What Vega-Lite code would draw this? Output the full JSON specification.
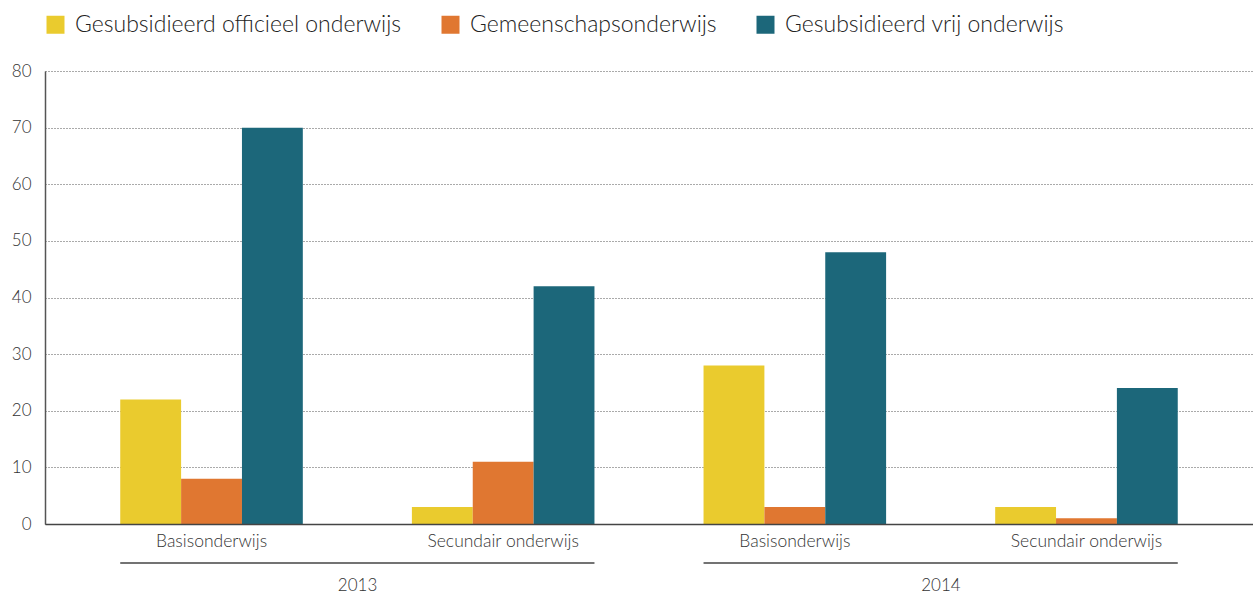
{
  "$schema": "https://vega.github.io/schema/vega-lite/v6.json",
  "width": 1208,
  "height": 453,
  "autosize": {"type": "none"},
  "padding": {"left": 45, "top": 71, "right": 0, "bottom": 71},
  "background": "white",
  "config": {"font": "Lato", "view": {"stroke": null}},
  "layer": [
    {
      "data": {
        "values": [
          {"group": "2013|Basisonderwijs", "type": "Gesubsidieerd officieel onderwijs", "value": 22},
          {"group": "2013|Basisonderwijs", "type": "Gemeenschapsonderwijs", "value": 8},
          {"group": "2013|Basisonderwijs", "type": "Gesubsidieerd vrij onderwijs", "value": 70},
          {"group": "2013|Secundair onderwijs", "type": "Gesubsidieerd officieel onderwijs", "value": 3},
          {"group": "2013|Secundair onderwijs", "type": "Gemeenschapsonderwijs", "value": 11},
          {"group": "2013|Secundair onderwijs", "type": "Gesubsidieerd vrij onderwijs", "value": 42},
          {"group": "2014|Basisonderwijs", "type": "Gesubsidieerd officieel onderwijs", "value": 28},
          {"group": "2014|Basisonderwijs", "type": "Gemeenschapsonderwijs", "value": 3},
          {"group": "2014|Basisonderwijs", "type": "Gesubsidieerd vrij onderwijs", "value": 48},
          {"group": "2014|Secundair onderwijs", "type": "Gesubsidieerd officieel onderwijs", "value": 3},
          {"group": "2014|Secundair onderwijs", "type": "Gemeenschapsonderwijs", "value": 1},
          {"group": "2014|Secundair onderwijs", "type": "Gesubsidieerd vrij onderwijs", "value": 24}
        ]
      },
      "mark": {"type": "bar"},
      "encoding": {
        "x": {
          "field": "group",
          "type": "nominal",
          "scale": {"paddingInner": 0.374, "paddingOuter": 0.258},
          "axis": {
            "title": null,
            "labelExpr": "split(datum.label,'|')[1]",
            "labelAngle": 0,
            "labelFontSize": 17.5,
            "labelFontWeight": 300,
            "labelColor": "#333",
            "labelPadding": 8,
            "ticks": false,
            "domainColor": "#444",
            "domainWidth": 1.5,
            "zindex": 1
          }
        },
        "xOffset": {
          "field": "type",
          "type": "nominal",
          "sort": ["Gesubsidieerd officieel onderwijs", "Gemeenschapsonderwijs", "Gesubsidieerd vrij onderwijs"],
          "scale": {"paddingInner": 0, "paddingOuter": 0}
        },
        "y": {
          "field": "value",
          "type": "quantitative",
          "scale": {"domain": [0, 80], "nice": false},
          "axis": {
            "title": null,
            "values": [0, 10, 20, 30, 40, 50, 60, 70, 80],
            "ticks": false,
            "domainColor": "#555",
            "domainWidth": 1.5,
            "gridDash": [1, 2],
            "gridColor": "#555",
            "gridWidth": 1,
            "labelFontSize": 17,
            "labelFontWeight": 300,
            "labelColor": "#333",
            "labelPadding": 14
          }
        },
        "color": {
          "field": "type",
          "type": "nominal",
          "sort": ["Gesubsidieerd officieel onderwijs", "Gemeenschapsonderwijs", "Gesubsidieerd vrij onderwijs"],
          "scale": {
            "domain": ["Gesubsidieerd officieel onderwijs", "Gemeenschapsonderwijs", "Gesubsidieerd vrij onderwijs"],
            "range": ["#EACB2E", "#E07731", "#1C677A"]
          },
          "legend": {
            "orient": "none",
            "legendX": -1,
            "legendY": -58,
            "direction": "horizontal",
            "title": null,
            "symbolType": "square",
            "symbolSize": 324,
            "symbolStrokeWidth": 0,
            "symbolOpacity": 1,
            "labelFontSize": 23,
            "labelFontWeight": 300,
            "labelColor": "#222",
            "labelOffset": 8,
            "columnPadding": 37,
            "labelLimit": 500
          }
        }
      }
    },
    {
      "data": {
        "values": [
          {"year": "2013", "start": "2013|Basisonderwijs", "end": "2013|Secundair onderwijs"},
          {"year": "2014", "start": "2014|Basisonderwijs", "end": "2014|Secundair onderwijs"}
        ]
      },
      "mark": {"type": "rule", "color": "#444", "strokeWidth": 1.5},
      "encoding": {
        "x": {"field": "start", "type": "nominal", "bandPosition": 0},
        "x2": {"field": "end", "bandPosition": 1},
        "y": {"datum": -6.9, "type": "quantitative"}
      }
    },
    {
      "data": {
        "values": [
          {"year": "2013", "start": "2013|Basisonderwijs", "end": "2013|Secundair onderwijs"},
          {"year": "2014", "start": "2014|Basisonderwijs", "end": "2014|Secundair onderwijs"}
        ]
      },
      "mark": {"type": "text", "fontSize": 17, "fontWeight": 300, "color": "#333", "baseline": "middle", "align": "center"},
      "encoding": {
        "x": {"field": "start", "type": "nominal", "bandPosition": 1.3},
        "y": {"datum": -10.95, "type": "quantitative"},
        "text": {"field": "year"}
      }
    }
  ]
}
